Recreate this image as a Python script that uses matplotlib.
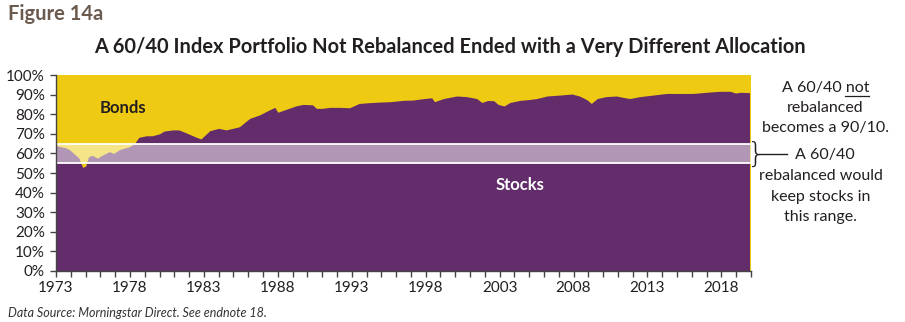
import matplotlib.pyplot as plt
import matplotlib.ticker as mticker
from matplotlib.font_manager import FontProperties

plt.rcParams['font.family'] = ['Lato', 'DejaVu Sans']

# stock share of a 60/40 portfolio that is never rebalanced (% of total)
years = [1973.0, 1973.3, 1973.6, 1973.9, 1974.2, 1974.55, 1974.8, 1975.0, 1975.2,
         1975.45, 1975.8, 1976.1, 1976.6, 1976.9, 1977.3, 1977.95, 1978.3, 1978.6,
         1979.1, 1979.5, 1980.0, 1980.3, 1980.9, 1981.3, 1981.8, 1982.5, 1982.8,
         1983.4, 1984.0, 1984.5, 1984.9, 1985.4, 1986.1, 1986.75, 1987.4, 1987.8,
         1988.0, 1988.6, 1989.2, 1989.7, 1990.35, 1990.6, 1991.0, 1991.5, 1992.2,
         1992.85, 1993.5, 1994.2, 1994.9, 1995.6, 1996.5, 1997.1, 1997.8, 1998.4,
         1998.6, 1999.2, 2000.1, 2000.75, 2001.45, 2001.8, 2002.2, 2002.6, 2002.9,
         2003.3, 2003.7, 2004.4, 2005.0, 2005.5, 2006.2, 2007.1, 2007.9, 2008.4,
         2008.9, 2009.2, 2009.6, 2010.2, 2010.9, 2011.35, 2011.8, 2012.5, 2013.4,
         2014.3, 2015.2, 2016.1, 2017.0, 2017.9, 2018.6, 2018.95, 2019.3, 2019.9]
stocks = [64.0, 63.4, 63.0, 62.0, 60.0, 57.6, 52.9, 53.5, 58.3,
          59.0, 57.6, 59.0, 60.9, 60.0, 62.0, 63.4, 65.0, 68.2,
          69.0, 69.0, 70.0, 71.4, 72.0, 72.0, 70.5, 68.2, 67.4,
          71.6, 72.8, 72.0, 72.7, 73.6, 77.9, 79.6, 82.1, 83.5,
          81.0, 82.6, 84.2, 85.0, 84.8, 83.0, 83.0, 83.5, 83.5,
          83.3, 85.5, 85.9, 86.2, 86.4, 87.1, 87.2, 87.9, 88.4,
          86.4, 88.0, 89.3, 89.0, 88.0, 86.0, 87.0, 86.9, 85.0,
          84.2, 86.0, 87.1, 87.5, 88.0, 89.3, 89.8, 90.3, 89.3,
          87.4, 85.5, 88.0, 89.0, 89.3, 88.6, 88.0, 89.0, 89.8,
          90.6, 90.6, 90.6, 91.2, 91.7, 91.7, 90.8, 91.2, 91.0]

band_low, band_high = 55, 65
yticks = list(range(0, 101, 10))
label_years = list(range(1973, 2019, 5))

purple = '#632D6B'
yellow = '#EECB12'
ink = '#231F20'

fig = plt.figure(figsize=(9.05, 3.22), dpi=100)
ax = fig.add_axes([0.0619, 0.1584, 0.7679, 0.6086])
ax.set_facecolor(yellow)
ax.fill_between(years, 0, stocks, color=purple, lw=0)

# rebalancing band
ax.axhspan(band_low, band_high, color='white', alpha=0.5, lw=0)
ax.axhline(band_low, color='white', lw=1.3)
ax.axhline(band_high, color='white', lw=1.3)

ax.set_xlim(1973, 2020)
ax.set_ylim(0, 100)
ax.set_yticks(yticks)
ax.yaxis.set_major_formatter(mticker.FuncFormatter(lambda v, p: f'{v:.0f}%'))
ax.set_xticks(label_years)
ax.set_xticks(range(1973, 2021), minor=True)
ax.tick_params(axis='both', colors='#444444', labelcolor=ink, labelsize=11,
               length=4, width=1)
ax.tick_params(axis='x', which='minor', length=4, width=1, colors='#444444')
ax.tick_params(axis='x', pad=3)
ax.tick_params(axis='y', pad=4)
for s in ['top', 'right']:
    ax.spines[s].set_visible(False)
for s in ['left', 'bottom']:
    ax.spines[s].set_color('#444444')
    ax.spines[s].set_linewidth(1)

ax.text(1977.5, 83, 'Bonds', fontsize=12, fontweight='bold', color=ink,
        ha='center', va='center')
ax.text(2004.4, 44, 'Stocks', fontsize=12, fontweight='bold', color='white',
        ha='center', va='center')

fig.text(0.009, 0.955, 'Figure 14a', fontsize=14.5, fontweight='bold',
         color='#6B5A4E', va='center')
fig.text(0.497, 0.853, 'A 60/40 Index Portfolio Not Rebalanced Ended with a Very Different Allocation',
         fontsize=14.4, fontweight='bold', color=ink, ha='center', va='center')
fig.text(0.009, 0.028, 'Data Source: Morningstar Direct. See endnote 18.',
         fontsize=9, style='italic', color='#333333', va='center')

# right-hand notes
note_size = 11.5
note_kw = dict(fontsize=note_size, color=ink, ha='center', va='center')
first = fig.text(0.912, 0.727, 'A 60/40 not', **note_kw)
fig.text(0.912, 0.665, 'rebalanced', **note_kw)
fig.text(0.912, 0.602, 'becomes a 90/10.', **note_kw)

# underline the word "not"
fig.canvas.draw()
r = fig.canvas.get_renderer()
bb = first.get_window_extent(r)
fp = FontProperties(family=['Lato', 'DejaVu Sans'], size=note_size)
w_not, _, _ = r.get_text_width_height_descent('not', fp, ismath=False)
_, _, desc = r.get_text_width_height_descent('A 60/40 not', fp, ismath=False)
y_ul = (bb.y0 + desc - 2) / fig.bbox.height
fig.add_artist(plt.Line2D([(bb.x1 - w_not) / fig.bbox.width, bb.x1 / fig.bbox.width],
                          [y_ul, y_ul], color=ink, lw=0.9,
                          transform=fig.transFigure))

fig.text(0.8345, 0.519, '}', fontsize=21, color=ink, ha='center', va='center',
         fontfamily=['DejaVu Sans'], fontweight='light')
fig.add_artist(plt.Line2D([0.8375, 0.8697], [0.522, 0.522], color=ink, lw=1,
                          transform=fig.transFigure))
fig.text(0.878, 0.519, 'A 60/40', fontsize=note_size, color=ink, ha='left', va='center')
fig.text(0.907, 0.453, 'rebalanced would', **note_kw)
fig.text(0.907, 0.388, 'keep stocks in', **note_kw)
fig.text(0.907, 0.326, 'this range.', **note_kw)

fig.savefig('out.png', dpi=100)
